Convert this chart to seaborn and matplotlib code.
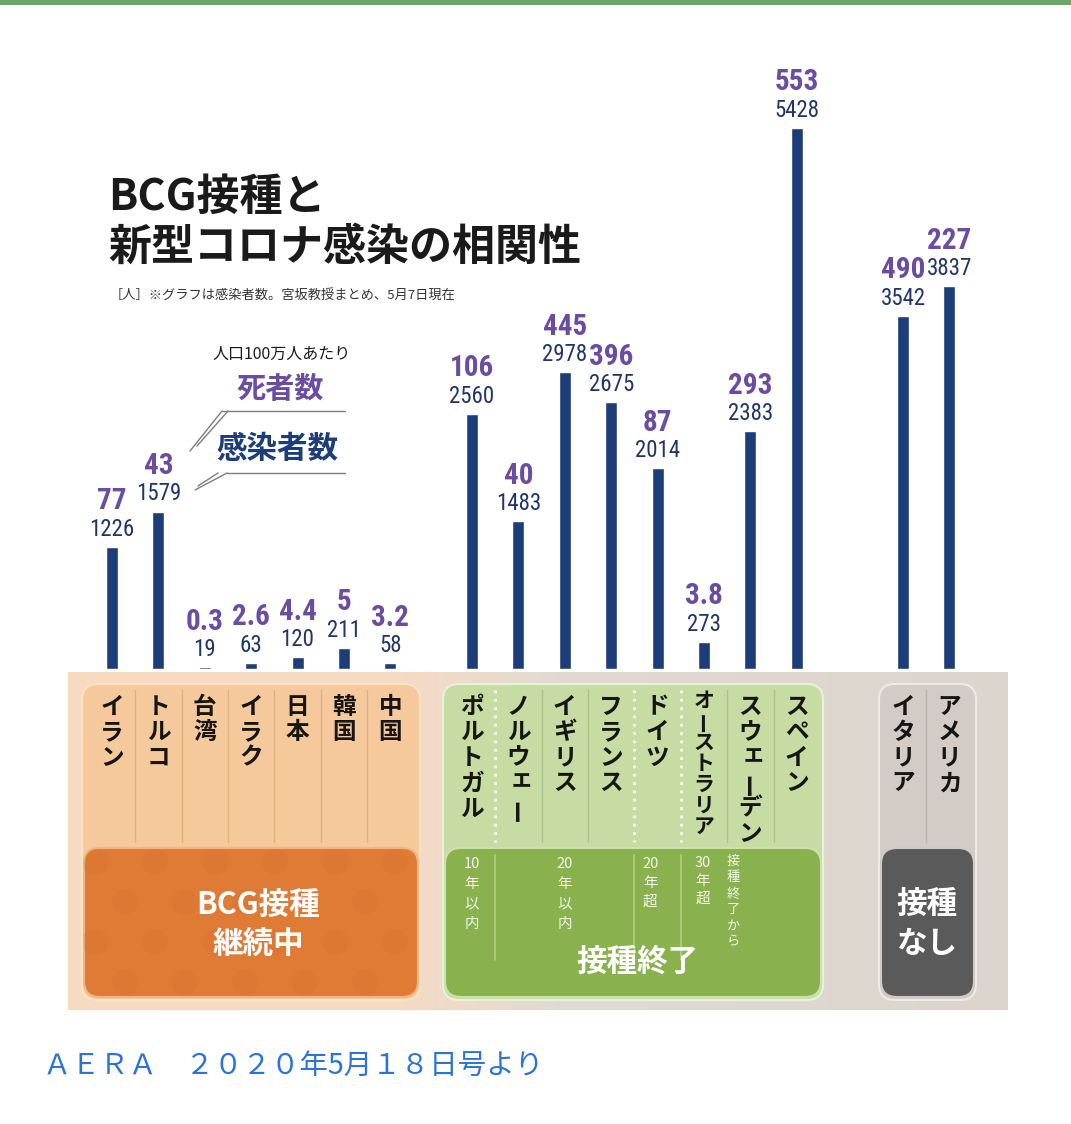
import re
import matplotlib
matplotlib.use("Agg")
import matplotlib.pyplot as plt
import matplotlib.transforms as mtransforms
from matplotlib import font_manager
from matplotlib.font_manager import FontProperties
from matplotlib.patches import FancyBboxPatch, Rectangle, Circle
from matplotlib.colors import LinearSegmentedColormap
import numpy as np
import pandas as pd
import seaborn as sns

# 人口100万人あたり（5月7日現在）
continuing_names = ["イラン", "トルコ", "台湾", "イラク", "日本", "韓国", "中国"]
continuing_cases = [1226, 1579, 19, 63, 120, 211, 58]
continuing_deaths = [77, 43, 0.3, 2.6, 4.4, 5, 3.2]

ended_names = ["ポルトガル", "ノルウェー", "イギリス", "フランス", "ドイツ",
               "オーストラリア", "スウェーデン", "スペイン"]
ended_cases = [2560, 1483, 2978, 2675, 2014, 273, 2383, 5428]
ended_deaths = [106, 40, 445, 396, 87, 3.8, 293, 553]

none_names = ["イタリア", "アメリカ"]
none_cases = [3542, 3837]
none_deaths = [490, 227]

period_labels = ["10年以内", "20年以内", "20年超", "30年超", "接種終了から"]
group_labels = ["BCG接種\n継続中", "接種終了", "接種\nなし"]

sns.set_style("white")
plt.rcParams["font.family"] = ["Noto Sans CJK JP", "DejaVu Sans"]


def _weight(f):
    if isinstance(f.weight, (int, float)):
        return f.weight
    return font_manager.weight_dict.get(f.weight, 400)


def _is_condensed(f):
    s = f.stretch
    if isinstance(s, (int, float)):
        return s < 500
    return "condensed" in str(s)


def narrow_font(bold, size):
    # condensed digits like the magazine graphic, whatever is installed
    want = 700 if bold else 400
    entries = [f for f in font_manager.fontManager.ttflist if f.style == "normal"]
    for fam in ["Liberation Sans Narrow", "Roboto Condensed", "Noto Sans Condensed",
                "Open Sans Condensed", "DejaVu Sans Condensed", "Arial Narrow"]:
        c = [f for f in entries if f.name == fam]
        if c:
            best = min(c, key=lambda f: abs(_weight(f) - want))
            return FontProperties(fname=best.fname, size=size)
    c = [f for f in entries if _is_condensed(f) and f.name in
         ("Liberation Sans", "Roboto", "Noto Sans", "Open Sans", "DejaVu Sans", "Lato", "Inter")]
    if c:
        best = min(c, key=lambda f: (abs(_weight(f) - want), str(f.stretch) != "condensed"))
        return FontProperties(fname=best.fname, size=size)
    return FontProperties(family="Noto Sans CJK JP", weight="bold" if bold else "normal",
                          size=size * 0.88)


case_fp = narrow_font(False, 16.5)
death_fp = narrow_font(True, 21)

NAVY = "#1d3d78"
NAVY_TXT = "#1f3468"
PURPLE = "#6a4ca2"

W, H = 1071, 1124
fig = plt.figure(figsize=(W / 100, H / 100), dpi=100)
fig.patch.set_facecolor("white")

# background axes in pixel units (y down)
bg = fig.add_axes([0, 0, 1, 1])
bg.set_autoscale_on(False)
bg.set_xlim(0, W)
bg.set_ylim(H, 0)
bg.axis("off")

# ---- bars ----
base_px = 669
px_per_unit = 0.0997
top_val = 6000
pitch = 46.4
groups = [
    (continuing_names, continuing_cases, continuing_deaths, 112),
    (ended_names, ended_cases, ended_deaths, 472),
    (none_names, none_cases, none_deaths, 903),
]
bar_axes = []
for names, cases, deaths, x0 in groups:
    n = len(names)
    ax = fig.add_axes([(x0 - pitch / 2) / W, (H - base_px) / H,
                       n * pitch / W, top_val * px_per_unit / H])
    ax.patch.set_alpha(0)
    df = pd.DataFrame({"国": names, "感染者数": cases})
    sns.barplot(data=df, x="国", y="感染者数", color=NAVY, saturation=1,
                width=0.26, errorbar=None, ax=ax)
    ax.set_xlim(-0.5, n - 0.5)
    ax.set_ylim(0, top_val)
    ax.axis("off")
    for i, (c, d) in enumerate(zip(cases, deaths)):
        ax.annotate(str(c), (i, c), xytext=(0, 8), textcoords="offset points",
                    ha="center", va="baseline", color=NAVY_TXT, fontproperties=case_fp)
        ax.annotate(f"{d:g}", (i, c), xytext=(0, 27), textcoords="offset points",
                    ha="center", va="baseline", color=PURPLE, fontproperties=death_fp)
    bar_axes.append(ax)


def trans_for(ax):
    return mtransforms.blended_transform_factory(ax.transData, bg.transData)


SMALL_KANA = "ァィゥェォッャュョ"


def vtext(ax, x, y_top, s, step, **kw):
    # vertical writing: one token per row, digits kept together
    tokens = re.findall(r"\d+|.", s)
    base = trans_for(ax)
    for k, t in enumerate(tokens):
        tr = base
        rot = 0
        if t in SMALL_KANA:
            tr = mtransforms.offset_copy(base, fig=fig, x=2.5, y=3, units="points")
        if t == "ー":
            rot = 90
        bg.text(x, y_top + step * (k + 0.5), t, transform=tr, rotation=rot,
                ha="center", va="center", zorder=6, **kw)


def rbox(x0, y0, x1, y1, fc, ec, r=14, z=2):
    p = FancyBboxPatch((x0, y0), x1 - x0, y1 - y0,
                       boxstyle=f"round,pad=0,rounding_size={r}",
                       fc=fc, ec=ec, lw=1.5, zorder=z)
    bg.add_patch(p)
    return p


# top band
bg.add_patch(Rectangle((0, 0), W, 5, fc="#6ca76b", ec="none", zorder=1))

# ---- titles ----
bg.text(108, 197, "BCG接種と", fontsize=31, fontweight="bold", va="center",
        color="#1a1a1a")
bg.text(108, 247, "新型コロナ感染の相関性", fontsize=31, fontweight="bold",
        va="center", color="#1a1a1a")
bg.text(110, 296, "［人］※グラフは感染者数。宮坂教授まとめ、5月7日現在",
        fontsize=9.5, va="center", color="#333333")

# ---- legend ----
bg.text(282, 354, "人口100万人あたり", fontsize=11.5, ha="center", va="center",
        color="#1a1a1a")
bg.text(280, 389, "死者数", fontsize=21, fontweight="bold", ha="center",
        va="center", color=PURPLE)
bg.text(277, 449, "感染者数", fontsize=22, fontweight="bold", ha="center",
        va="center", color=NAVY)
lc = "#7d7d7d"
bg.plot([222, 345], [411, 411], color=lc, lw=1)
bg.plot([222, 190], [411, 451], color=lc, lw=1)
bg.plot([228, 197], [411, 446], color=lc, lw=1)
bg.plot([227, 345], [473, 473], color=lc, lw=1)
bg.plot([227, 195], [473, 490], color=lc, lw=1)
bg.plot([218, 198], [473, 486], color=lc, lw=1)

# ---- bottom panel ----
cmap = LinearSegmentedColormap.from_list(
    "panel", [(0, "#f7dbc1"), (0.36, "#f5dbc5"), (0.52, "#e1dad3"), (1, "#dbd5ce")])
bg.imshow(np.linspace(0, 1, 256)[None, :], cmap=cmap, aspect="auto",
          extent=(68, 1008, 1010, 672), zorder=1)
bg.set_xlim(0, W)
bg.set_ylim(H, 0)

rbox(82, 684, 420, 1000, "#f5c99c", "#fbe2c6", r=16)
dark_o = rbox(84, 848, 418, 997, "#e07b36", "#f1b583", r=16, z=3)
rbox(443, 684, 823, 1000, "#c7dca3", "#e8f1da", r=16)
rbox(445, 848, 821, 997, "#89b14d", "#cde0ae", r=16, z=3)
rbox(879, 684, 976, 1000, "#d2cbc6", "#eeeae6", r=16)
rbox(881, 848, 974, 997, "#5a5a5a", "#cfcac6", r=16, z=3)

# faint dot texture on the orange box
for row, yy in enumerate(range(862, 1000, 40)):
    for xx in range(95 + (row % 2) * 30, 420, 60):
        c = Circle((xx, yy), 13, fc="#d87330", ec="none", alpha=0.3, zorder=3.5)
        bg.add_patch(c)
        c.set_clip_path(dark_o)

# column separators
ax1, ax2, ax3 = bar_axes
for i in range(len(continuing_names) - 1):
    bg.plot([i + 0.5] * 2, [690, 842], transform=trans_for(ax1), color="#e0b080",
            lw=1, zorder=4)
dotted = {0, 3, 4}
for i in range(len(ended_names) - 1):
    if i in dotted:
        bg.plot([i + 0.5] * 2, [690, 842], transform=trans_for(ax2), color="white",
                lw=2, ls=(0, (1, 2)), zorder=4)
        bg.plot([i + 0.5] * 2, [855, 960], transform=trans_for(ax2), color="#b4d08a",
                lw=1.2, zorder=4)
    else:
        bg.plot([i + 0.5] * 2, [690, 842], transform=trans_for(ax2), color="#abc486",
                lw=1, zorder=4)
bg.plot([0.5, 0.5], [690, 842], transform=trans_for(ax3), color="#bbb3ad", lw=1,
        zorder=4)

# country names (vertical)
for ax, names in zip(bar_axes, [continuing_names, ended_names, none_names]):
    for i, name in enumerate(names):
        if len(name) >= 7:
            vtext(ax, i, 690, name, 21, fontsize=15, fontweight="bold", color="#151515")
        else:
            vtext(ax, i, 694, name, 25.5, fontsize=17, fontweight="bold", color="#151515")

# years since end of vaccination
period_x = [0, 2, 3.84, 4.98, 5.63]
period_step = [20, 20, 19, 18, 16]
for lab, px, st in zip(period_labels, period_x, period_step):
    vtext(ax2, px, 854, lab, st, fontsize=10.5 if st >= 18 else 9.5, color="#f4f7ea")

# group labels
bg.text(258, 925, group_labels[0], fontsize=22, fontweight="bold", color="white",
        ha="center", va="center", linespacing=1.3, zorder=6)
bg.text(637, 962, group_labels[1], fontsize=22, fontweight="bold", color="white",
        ha="center", va="center", zorder=6)
bg.text(927, 924, group_labels[2], fontsize=22, fontweight="bold", color="white",
        ha="center", va="center", linespacing=1.3, zorder=6)

# footer
bg.text(43, 1066, "ＡＥＲＡ　２０２０年5月１８日号より", fontsize=20.5,
        color="#2b74d6", va="center")

fig.savefig("out.png", dpi=100, facecolor="white")
